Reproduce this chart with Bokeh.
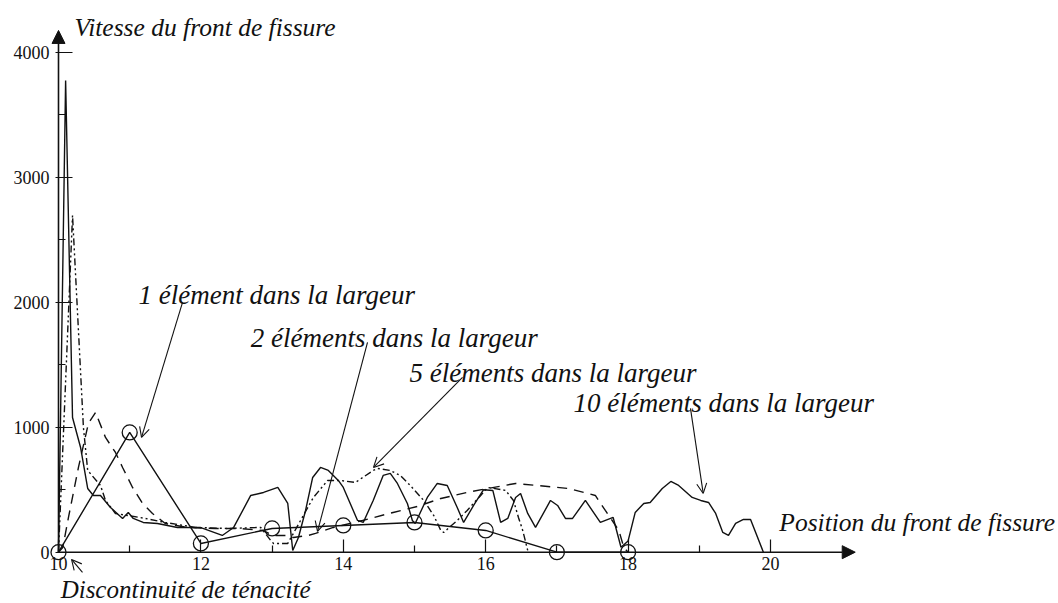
from bokeh.plotting import figure
from bokeh.models import Range1d, FixedTicker, Arrow, NormalHead, OpenHead, ColumnDataSource
from bokeh.core.properties import value
from bokeh.embed import file_html
from bokeh.resources import INLINE

# ---------------- data ----------------
# 1 element in the width (solid with circles)
x1 = [10, 11, 12, 13, 14, 15, 16, 17, 18]
y1 = [0, 958, 70, 190, 214, 238, 174, 0, 0]

# 2 elements in the width (long dash)
x2 = [10.0, 10.06, 10.14, 10.28, 10.42, 10.52, 10.66, 10.80, 10.90, 11.04, 11.18, 11.32,
      11.50, 11.81, 12.20, 12.53, 12.87, 13.01, 13.19, 13.30, 13.51, 13.61, 13.86, 14.27,
      14.70, 15.04, 15.37, 15.74, 16.03, 16.42, 17.16, 17.54, 17.68, 17.87, 17.94, 18.0]
y2 = [0, 38, 278, 678, 1030, 1118, 918, 798, 678, 518, 390, 310,
      230, 198, 190, 190, 174, 134, 134, 118, 134, 150, 198, 254,
      318, 366, 430, 478, 510, 550, 510, 454, 334, 174, 38, 0]

# 5 elements in the width (dash-dot-dot)
x5 = [10.0, 10.197, 10.35, 10.41, 10.59, 10.66, 10.80, 11.22, 11.50, 11.92, 12.37, 12.84,
      12.98, 13.02, 13.22, 13.40, 13.58, 13.78, 13.96, 14.17, 14.42, 14.48, 14.66, 14.80,
      14.94, 15.13, 15.27, 15.37, 15.41, 15.60, 15.74, 15.93, 16.03, 16.28, 16.39, 16.46,
      16.52, 16.59]
y5 = [0, 2694, 998, 654, 534, 414, 310, 270, 238, 198, 190, 198,
      94, 70, 70, 254, 438, 574, 574, 558, 654, 670, 654, 614,
      534, 414, 294, 174, 158, 254, 334, 454, 518, 494, 414, 278,
      174, 14]

# 10 elements in the width (solid)
x10 = [10.0, 10.10, 10.197, 10.31, 10.41, 10.49, 10.59, 10.73, 10.90, 10.98, 11.05, 11.19,
       11.39, 11.67, 11.99, 12.30, 12.46, 12.70, 12.88, 13.08, 13.22, 13.29, 13.37, 13.47,
       13.57, 13.68, 13.79, 13.93, 14.00, 14.20, 14.28, 14.42, 14.56, 14.66, 14.76, 14.90,
       14.97, 15.01, 15.18, 15.32, 15.46, 15.60, 15.69, 15.83, 15.97, 16.10, 16.21, 16.31,
       16.42, 16.49, 16.59, 16.70, 16.91, 17.01, 17.12, 17.22, 17.40, 17.61, 17.79, 17.90,
       18.00, 18.10, 18.22, 18.31, 18.48, 18.60, 18.71, 18.90, 19.02, 19.13, 19.23, 19.33,
       19.41, 19.51, 19.62, 19.72, 19.90]
y10 = [0, 3774, 1078, 838, 510, 454, 454, 358, 270, 318, 270, 238,
       230, 198, 198, 134, 198, 454, 478, 518, 390, 14, 118, 334,
       598, 678, 654, 574, 518, 254, 238, 414, 614, 630, 550, 390,
       254, 230, 438, 550, 534, 358, 238, 374, 500, 494, 238, 270,
       438, 470, 310, 198, 414, 374, 270, 270, 414, 238, 278, 40,
       90, 318, 390, 398, 510, 566, 534, 438, 414, 398, 310, 158,
       134, 230, 262, 262, 0]

x_ticks = [10, 12, 14, 16, 18, 20]
x_minor = [11, 13, 15, 17, 19]
y_ticks = [0, 1000, 2000, 3000, 4000]
y_minor = [500, 1500, 2500, 3500]

y_title = "Vitesse du front de fissure"
x_title = "Position du front de fissure"
note_disc = "Discontinuité de ténacité"
labels = ["1 élément dans la largeur", "2 éléments dans la largeur",
          "5 éléments dans la largeur", "10 éléments dans la largeur"]

# ---------------- layout ----------------
W, H = 1058, 603
px_x = 71.2      # pixels per x unit
px_y = 0.125     # pixels per y unit
x0_px, y0_px = 58, 551.7
xr = Range1d(10 - x0_px / px_x, 10 + (W - x0_px) / px_x)
yr = Range1d(-(H - y0_px) / px_y, y0_px / px_y)

p = figure(width=W, height=H, x_range=xr, y_range=yr, output_backend="svg",
           toolbar_location=None, min_border=0)
p.outline_line_color = None
p.xgrid.visible = False
p.ygrid.visible = False
p.background_fill_color = "white"

SERIF = "Liberation Serif"
INK = "#111111"

for ax in (p.xaxis, p.yaxis):
    ax.axis_line_color = None
    ax.major_tick_line_color = INK
    ax.minor_tick_line_color = INK
    ax.major_tick_line_width = 1.2
    ax.minor_tick_line_width = 1.2
    ax.major_label_text_font = SERIF
    ax.major_label_text_font_size = "18px"
    ax.major_label_text_color = INK

p.xaxis.fixed_location = 0
p.yaxis.fixed_location = 10
p.xaxis.ticker = FixedTicker(ticks=x_ticks, minor_ticks=x_minor)
p.yaxis.ticker = FixedTicker(ticks=y_ticks, minor_ticks=y_minor)
p.xaxis.major_tick_in = 13
p.xaxis.major_tick_out = 0
p.xaxis.minor_tick_in = 7
p.xaxis.minor_tick_out = 0
p.xaxis.major_label_standoff = 5
p.yaxis.major_tick_in = 14
p.yaxis.major_tick_out = 3
p.yaxis.minor_tick_in = 7
p.yaxis.minor_tick_out = 0
p.yaxis.major_label_standoff = 6

# axis lines with arrow heads
p.add_layout(Arrow(end=NormalHead(size=13, fill_color=INK, line_color=INK),
                   x_start=10, y_start=0, x_end=10, y_end=4174,
                   line_color=INK, line_width=1.6))
p.add_layout(Arrow(end=NormalHead(size=13, fill_color=INK, line_color=INK),
                   x_start=10, y_start=0, x_end=21.19, y_end=0,
                   line_color=INK, line_width=1.6))

LW = 1.4
p.line(x10, y10, line_color=INK, line_width=LW)
p.line(x5, y5, line_color=INK, line_width=LW, line_dash="7 3 2 3 2 3")
p.line(x2, y2, line_color=INK, line_width=LW, line_dash="10 7")
p.line(x1, y1, line_color=INK, line_width=LW)
p.scatter(x1, y1, size=15, marker="circle", fill_alpha=0, line_color=INK, line_width=1.3)

# annotations
ann = ColumnDataSource(dict(
    text=[y_title, x_title, note_disc] + labels,
    x=[10.225, 20.124, 10.03, 11.124, 12.70, 14.93, 17.233],
    y=[4195, 239, -300, 2057, 1717, 1430, 1190],
    size=["25.5px", "25.5px", "25px", "27px", "27px", "27px", "27px"],
))
p.text(x="x", y="y", text="text", source=ann, text_font=value(SERIF),
       text_font_style="italic", text_font_size="size", text_color=INK,
       text_align="left", text_baseline="alphabetic")

arrows = [
    (11.742, 1998, 11.166, 918),
    (14.34, 1678, 13.638, 166),
    (15.674, 1398, 14.424, 678),
    (18.876, 1150, 19.055, 470),
    (10.337, -162, 10.183, -58),
]
for xs, ys, xe, ye in arrows:
    p.add_layout(Arrow(end=OpenHead(size=10, line_color=INK, line_width=1.1),
                       x_start=xs, y_start=ys, x_end=xe, y_end=ye,
                       line_color=INK, line_width=1.1))

open("out.html", "w").write(file_html(p, INLINE))
